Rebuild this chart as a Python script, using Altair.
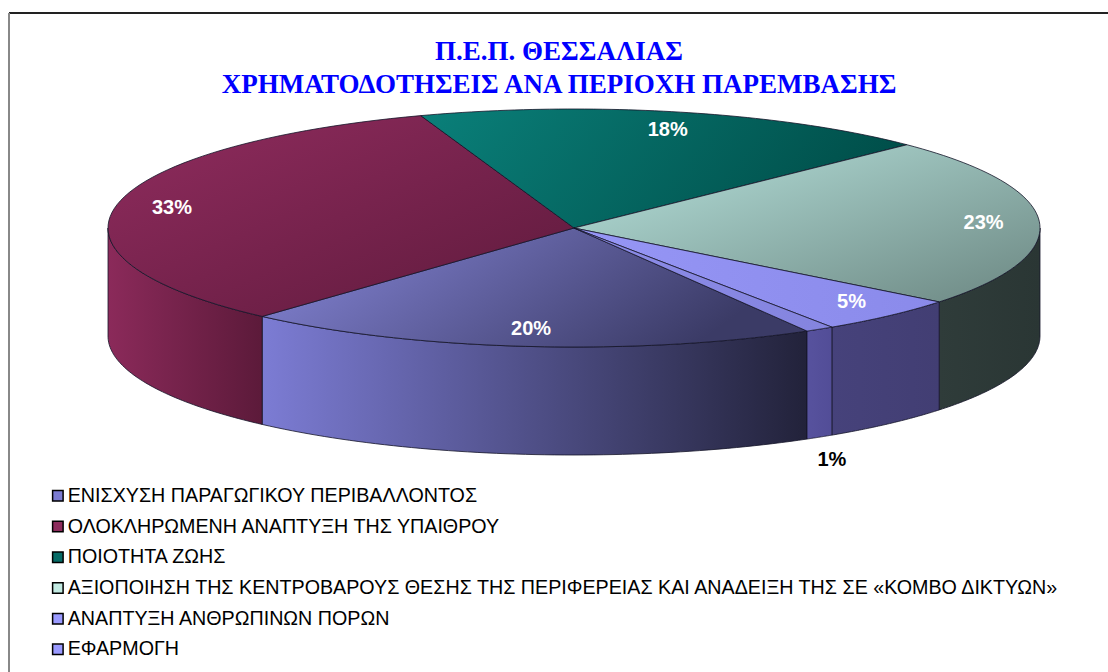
import altair as alt
import pandas as pd

# ---------------- data ----------------
CATEGORIES = [
    "ΕΝΙΣΧΥΣΗ ΠΑΡΑΓΩΓΙΚΟΥ ΠΕΡΙΒΑΛΛΟΝΤΟΣ",
    "ΟΛΟΚΛΗΡΩΜΕΝΗ ΑΝΑΠΤΥΞΗ ΤΗΣ ΥΠΑΙΘΡΟΥ",
    "ΠΟΙΟΤΗΤΑ ΖΩΗΣ",
    "ΑΞΙΟΠΟΙΗΣΗ ΤΗΣ ΚΕΝΤΡΟΒΑΡΟΥΣ ΘΕΣΗΣ ΤΗΣ ΠΕΡΙΦΕΡΕΙΑΣ ΚΑΙ ΑΝΑΔΕΙΞΗ ΤΗΣ ΣΕ «ΚΟΜΒΟ ΔΙΚΤΥΩΝ»",
    "ΑΝΑΠΤΥΞΗ ΑΝΘΡΩΠΙΝΩΝ ΠΟΡΩΝ",
    "ΕΦΑΡΜΟΓΗ",
]
SHARES = [20, 33, 18, 23, 5, 1]
TITLE_LINES = ["Π.Ε.Π. ΘΕΣΣΑΛΙΑΣ", "ΧΡΗΜΑΤΟΔΟΤΗΣΕΙΣ ΑΝΑ ΠΕΡΙΟΧΗ ΠΑΡΕΜΒΑΣΗΣ"]

# ---------------- styles ----------------
LEGEND_COLORS = ["#7b7bd2", "#8c2b5c", "#066b66", "#c2eae2", "#9a9aff", "#9a9aff"]
# top-face gradients: (start colour, end colour, x2, y2)
TOP_GRAD = [
    ("#8888dc", "#3b3b66", 1, 0.3),
    ("#902c5e", "#5e1a3c", 1, 1),
    ("#0a807a", "#004f4a", 1, 0.2),
    ("#b8e4de", "#6c8782", 1, 1),
    ("#9696f6", "#8a8aea", 1, 0),
    ("#8c8ce8", "#8484de", 1, 0),
]
SIDE_GRAD = [
    ("#7c7cd4", "#22223a"),
    ("#8b2a5a", "#5c1a3a"),
    ("#2a4a46", "#1e3633"),
    ("#2f3c3a", "#2a3634"),
    ("#46427b", "#423e73"),
    ("#57529e", "#524d97"),
]
EDGE = "#141428"

W, H = 1099, 659
CX, CY, RX, RY, D = 565, 215, 466, 119, 108
START = 2.618  # first slice starts at ~150 degrees clockwise from 12 o'clock
N = 60

df = pd.DataFrame({"cat": CATEGORIES, "share": SHARES, "idx": list(range(len(SHARES)))})

X = alt.X("px:Q", axis=None, scale=alt.Scale(domain=[0, W], nice=False, zero=False))
Y = alt.Y("py:Q", axis=None, scale=alt.Scale(domain=[0, H], nice=False, zero=False, reverse=True))


def base():
    return (
        alt.Chart(df)
        .transform_window(cum="sum(share)", sort=[alt.SortField("idx")], frame=[None, 0])
        .transform_joinaggregate(total="sum(share)")
        .transform_calculate(a0=f"{START} + 2*PI*(datum.cum - datum.share)/datum.total")
        .transform_calculate(a1=f"{START} + 2*PI*datum.cum/datum.total")
    )


def grad(c0, c1, x2, y2):
    return {
        "gradient": "linear",
        "stops": [{"offset": 0, "color": c0}, {"offset": 1, "color": c1}],
        "x1": 0, "y1": 0, "x2": x2, "y2": y2,
    }


def top_layer(i):
    c0, c1, x2, y2 = TOP_GRAD[i]
    return (
        base()
        .transform_filter(f"datum.idx == {i}")
        .transform_calculate(k=f"sequence(0, {N + 3})")
        .transform_flatten(["k"])
        .transform_calculate(edge=f"datum.k == 0 || datum.k == {N + 2}")
        .transform_calculate(ang=f"datum.a0 + (datum.k - 1) / {N} * (datum.a1 - datum.a0)")
        .transform_calculate(px=f"datum.edge ? {CX} : {CX} + {RX} * sin(datum.ang)")
        .transform_calculate(py=f"datum.edge ? {CY} : {CY} - {RY} * cos(datum.ang)")
        .mark_line(filled=True, fill=grad(c0, c1, x2, y2), stroke=EDGE, strokeWidth=0.8)
        .encode(x=X, y=Y, order="k:Q")
    )


def side_layer(i):
    c0, c1 = SIDE_GRAD[i]
    return (
        base()
        .transform_filter(f"datum.idx == {i}")
        .transform_calculate(ua="max(datum.a0, 0.5*PI)")
        .transform_calculate(ub="min(datum.a1, 1.5*PI)")
        .transform_calculate(va="max(datum.a0, 2.5*PI)")
        .transform_calculate(vb="min(datum.a1, 3.5*PI)")
        .transform_calculate(s0="datum.ub > datum.ua ? datum.ua : datum.va")
        .transform_calculate(s1="datum.ub > datum.ua ? datum.ub : datum.vb")
        .transform_filter("datum.s1 > datum.s0 + 0.000001")
        .transform_calculate(k=f"sequence(0, {2 * N + 3})")
        .transform_flatten(["k"])
        .transform_calculate(
            j=f"datum.k <= {N} ? datum.k : (datum.k <= {2 * N + 1} ? {2 * N + 1} - datum.k : 0)"
        )
        .transform_calculate(ang=f"datum.s0 + datum.j / {N} * (datum.s1 - datum.s0)")
        .transform_calculate(px=f"{CX} + {RX} * sin(datum.ang)")
        .transform_calculate(
            py=f"{CY} - {RY} * cos(datum.ang) + ((datum.k > {N} && datum.k <= {2 * N + 1}) ? {D} : 0)"
        )
        .mark_line(filled=True, fill=grad(c0, c1, 1, 0), stroke=EDGE, strokeWidth=0.8)
        .encode(x=X, y=Y, order="k:Q")
    )


legend_layer = alt.Chart(df).mark_square(size=1, opacity=1).encode(
    x=alt.value(CX),
    y=alt.value(CY),
    color=alt.Color(
        "cat:N",
        sort=CATEGORIES,
        scale=alt.Scale(domain=CATEGORIES, range=LEGEND_COLORS),
        legend=alt.Legend(
            title=None,
            orient="none",
            legendX=39,
            legendY=473,
            direction="vertical",
            symbolType="square",
            symbolSize=110,
            symbolStrokeColor="black",
            symbolStrokeWidth=1.5,
            symbolOpacity=1,
            labelFont="Liberation Sans",
            labelFontSize=19.7,
            labelColor="black",
            labelLimit=1100,
            labelOffset=0,
            rowPadding=9.7,
            padding=0,
        ),
    ),
)

labels = (
    base()
    .transform_calculate(mid="(datum.a0 + datum.a1) / 2")
    .transform_calculate(small="datum.share / datum.total < 0.03")
    .transform_calculate(fx="datum.small ? 1.05 : 0.88")
    .transform_calculate(fy="datum.small ? 1.05 : 0.85")
    .transform_calculate(px=f"{CX} + {RX} * datum.fx * sin(datum.mid)")
    .transform_calculate(py=f"{CY} - {RY} * datum.fy * cos(datum.mid) + (datum.small ? {D + 18} : 0)")
    .transform_calculate(lab="format(datum.share / datum.total, '.0%')")
    .transform_calculate(tc="datum.small ? 'black' : 'white'")
    .mark_text(font="Liberation Sans", fontSize=20, fontWeight="bold", align="center", baseline="middle")
    .encode(x=X, y=Y, text="lab:N", color=alt.Color("tc:N", scale=None))
)

title_layers = [
    alt.Chart(pd.DataFrame({"t": [line]}))
    .mark_text(font="Liberation Serif", fontSize=27, fontWeight="bold", color="#0000ff",
               align="center", baseline="middle")
    .encode(x=alt.value(550), y=alt.value(39 + 33 * n), text="t:N")
    for n, line in enumerate(TITLE_LINES)
]

border_top = alt.Chart(df).mark_rule(color="#222222", strokeWidth=2).encode(
    x=alt.value(0), x2=alt.value(W), y=alt.value(0)
)
border_left = alt.Chart(df).mark_rule(color="#888888", strokeWidth=2).encode(
    x=alt.value(0), y=alt.value(0), y2=alt.value(H)
)

layers = [border_top, border_left, legend_layer]
layers += [side_layer(i) for i in range(len(SHARES))]
layers += [top_layer(i) for i in range(len(SHARES))]
layers += [labels] + title_layers

chart = (
    alt.layer(*layers)
    .properties(
        width=W,
        height=H,
        autosize="none",
        padding={"left": 9, "top": 13, "right": 0, "bottom": 0},
        background="white",
    )
    .configure_view(strokeWidth=0)
)

chart.save("out.html", embed_options={"renderer": "svg", "actions": False})
